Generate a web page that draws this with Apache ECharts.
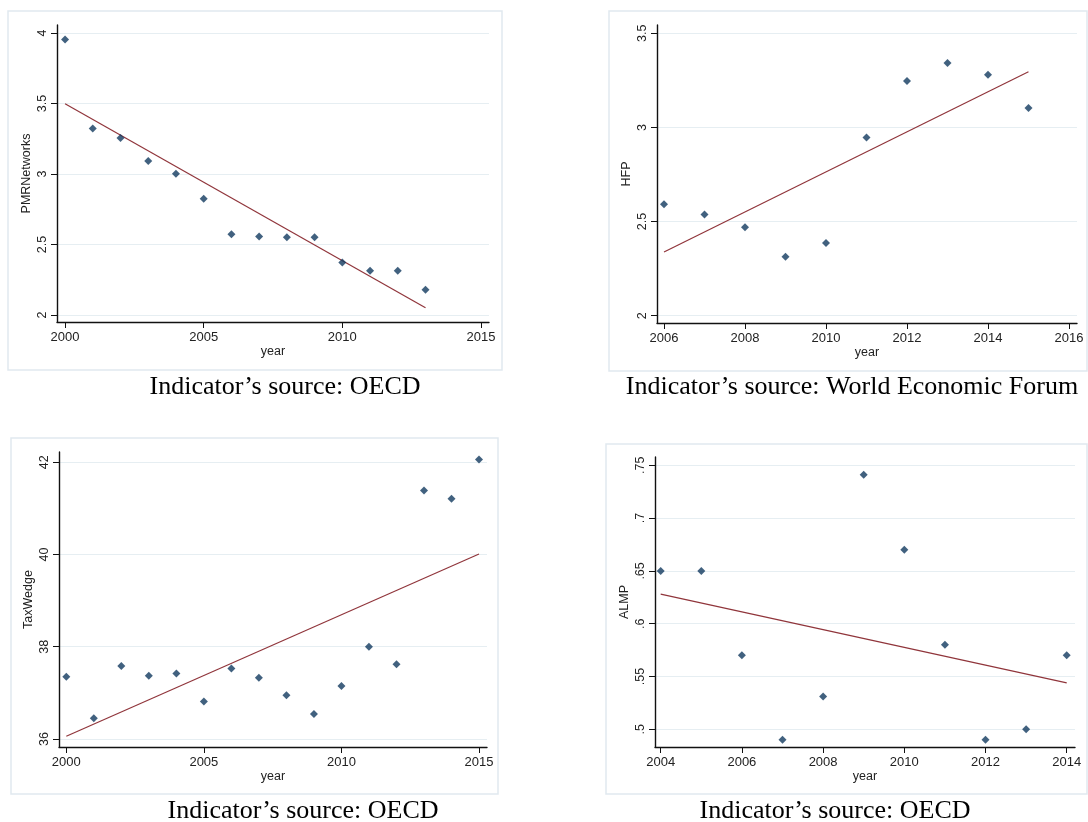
<!DOCTYPE html>
<html>
<head>
<meta charset="utf-8">
<script src="https://cdn.jsdelivr.net/npm/echarts@6/dist/echarts.min.js"></script>
<style>
html,body{margin:0;padding:0;background:#fff;}
#chart{width:1088px;height:822px;}
</style>
</head>
<body>
<div id="chart"></div>
<script>
// ---------- Data ----------
// Panel 1: PMRNetworks (OECD)
const pmrYears = [2000,2001,2002,2003,2004,2005,2006,2007,2008,2009,2010,2011,2012,2013];
const pmrValues = [3.953,3.322,3.256,3.092,3.002,2.825,2.573,2.557,2.552,2.552,2.372,2.313,2.313,2.180];
const pmrFitYears = [2000,2013];
const pmrFitValues = [3.498,2.052];
const pmrXTicks = [2000,2005,2010,2015];
const pmrYTicks = [2,2.5,3,3.5,4];
const pmrYTickLabels = ['2','2.5','3','3.5','4'];

// Panel 2: HFP (World Economic Forum)
const hfpYears = [2006,2007,2008,2009,2010,2011,2012,2013,2014,2015];
const hfpValues = [2.592,2.537,2.469,2.313,2.386,2.947,3.247,3.342,3.280,3.103];
const hfpFitYears = [2006,2015];
const hfpFitValues = [2.338,3.296];
const hfpXTicks = [2006,2008,2010,2012,2014,2016];
const hfpYTicks = [2,2.5,3,3.5];
const hfpYTickLabels = ['2','2.5','3','3.5'];

// Panel 3: TaxWedge (OECD)
const taxYears = [2000,2001,2002,2003,2004,2005,2006,2007,2008,2009,2010,2011,2012,2013,2014,2015];
const taxValues = [37.35,36.45,37.58,37.37,37.42,36.81,37.53,37.33,36.95,36.54,37.15,38.00,37.62,41.39,41.21,42.06];
const taxFitYears = [2000,2015];
const taxFitValues = [36.06,40.01];
const taxXTicks = [2000,2005,2010,2015];
const taxYTicks = [36,38,40,42];
const taxYTickLabels = ['36','38','40','42'];

// Panel 4: ALMP (OECD)
const almpYears = [2004,2005,2006,2007,2008,2009,2010,2011,2012,2013,2014];
const almpValues = [0.650,0.650,0.570,0.490,0.531,0.741,0.670,0.580,0.490,0.500,0.570];
const almpFitYears = [2004,2014];
const almpFitValues = [0.628,0.544];
const almpXTicks = [2004,2006,2008,2010,2012,2014];
const almpYTicks = [0.5,0.55,0.6,0.65,0.7,0.75];
const almpYTickLabels = ['.5','.55','.6','.65','.7','.75'];

const xName = 'year';
const captions = [
  'Indicator\u2019s source: OECD',
  'Indicator\u2019s source: World Economic Forum',
  'Indicator\u2019s source: OECD',
  'Indicator\u2019s source: OECD'
];

// ---------- Layout / style ----------
const panels = [
  {name:'PMRNetworks', years:pmrYears, vals:pmrValues, fx:pmrFitYears, fy:pmrFitValues,
   xt:pmrXTicks, yt:pmrYTicks, ytl:pmrYTickLabels,
   grid:{left:57, top:25, width:432, height:297}, xr:[1999.71,2015.29], yr:[1.9504,4.0567]},
  {name:'HFP', years:hfpYears, vals:hfpValues, fx:hfpFitYears, fy:hfpFitValues,
   xt:hfpXTicks, yt:hfpYTicks, ytl:hfpYTickLabels,
   grid:{left:657, top:25, width:420, height:298}, xr:[2005.827,2016.198], yr:[1.961,3.544]},
  {name:'TaxWedge', years:taxYears, vals:taxValues, fx:taxFitYears, fy:taxFitValues,
   xt:taxXTicks, yt:taxYTicks, ytl:taxYTickLabels,
   grid:{left:59, top:452, width:428, height:295}, xr:[1999.735,2015.29], yr:[35.826,42.223]},
  {name:'ALMP', years:almpYears, vals:almpValues, fx:almpFitYears, fy:almpFitValues,
   xt:almpXTicks, yt:almpYTicks, ytl:almpYTickLabels,
   grid:{left:655, top:457, width:420, height:290}, xr:[2003.86,2014.204], yr:[0.4832,0.7579]}
];

const frames = [
  {x:8, y:11, w:494, h:359},
  {x:609, y:11, w:478, h:360},
  {x:11, y:438, w:487, h:356},
  {x:606, y:444, w:481, h:350}
];
const captionPos = [
  {x:285, y:387}, {x:852, y:387}, {x:303, y:811}, {x:835, y:811}
];

const axisColor = '#111';
const labelColor = '#222';
const gridColor = '#e6eef2';
const markerColor = '#123a5f';
const fitColor = '#90353b';
const sansFont = '"Liberation Sans", Arial, sans-serif';
const serifFont = '"Liberation Serif", "Times New Roman", serif';

const grids = [], xAxes = [], yAxes = [], series = [], graphics = [];

frames.forEach(f => {
  graphics.push({type:'rect', shape:{x:f.x, y:f.y, width:f.w, height:f.h},
    style:{fill:'#fff', stroke:'#e1e9ef', lineWidth:1.5}, z:-10});
});
captions.forEach((c, i) => {
  graphics.push({type:'text', x:captionPos[i].x, y:captionPos[i].y,
    style:{text:c, font:'26px ' + serifFont, fill:'#000', textAlign:'center', textVerticalAlign:'middle'}});
});

panels.forEach((p, i) => {
  grids.push(Object.assign({containLabel:false}, p.grid));
  xAxes.push({
    type:'value', gridIndex:i, min:p.xr[0], max:p.xr[1],
    name:xName, nameLocation:'middle', nameGap:23,
    nameTextStyle:{fontFamily:sansFont, fontSize:12.5, color:labelColor},
    axisLine:{show:true, onZero:false, lineStyle:{color:axisColor, width:1.4}},
    axisTick:{show:true, inside:false, length:6, customValues:p.xt, lineStyle:{color:axisColor, width:1}},
    axisLabel:{customValues:p.xt, margin:9, fontFamily:sansFont, fontSize:13, color:labelColor,
      formatter: v => String(Math.round(v))},
    splitLine:{show:false}
  });
  yAxes.push({
    type:'value', gridIndex:i, min:p.yr[0], max:p.yr[1],
    name:p.name, nameLocation:'middle', nameGap:24, nameRotate:90,
    nameTextStyle:{fontFamily:sansFont, fontSize:12.5, color:labelColor},
    axisLine:{show:true, onZero:false, lineStyle:{color:axisColor, width:1.4}},
    axisTick:{show:true, inside:false, length:6, customValues:p.yt, lineStyle:{color:axisColor, width:1}},
    axisLabel:{customValues:p.yt, rotate:90, margin:8, fontFamily:sansFont, fontSize:12.5, color:labelColor,
      formatter: v => {
        let k = 0, best = Infinity;
        p.yt.forEach((t, j) => { const d = Math.abs(t - v); if (d < best) { best = d; k = j; } });
        return p.ytl[k];
      }},
    splitLine:{show:true, customValues:p.yt, lineStyle:{color:gridColor, width:1}}
  });
  series.push({
    type:'scatter', xAxisIndex:i, yAxisIndex:i, symbol:'diamond', symbolSize:[8,8],
    itemStyle:{color:markerColor}, z:3,
    data:p.years.map((y, j) => [y, p.vals[j]])
  });
  series.push({
    type:'line', xAxisIndex:i, yAxisIndex:i, symbol:'none', z:2,
    lineStyle:{color:fitColor, width:1.2},
    data:p.fx.map((y, j) => [y, p.fy[j]])
  });
});

const chart = echarts.init(document.getElementById('chart'), null, {renderer:'canvas'});
chart.setOption({
  backgroundColor:'#fff',
  animation:false,
  graphic:graphics,
  grid:grids, xAxis:xAxes, yAxis:yAxes, series:series
});
</script>
</body>
</html>
